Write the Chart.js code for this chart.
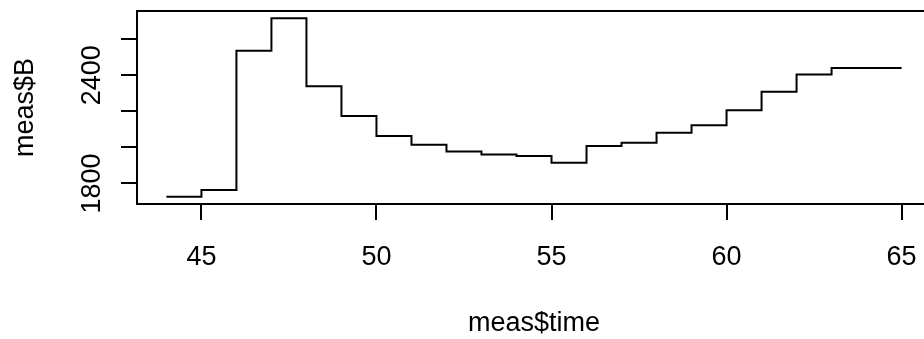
<!DOCTYPE html>
<html>
<head>
<meta charset="utf-8">
<script src="https://cdn.jsdelivr.net/npm/chart.js@4"></script>
<style>
  html, body { margin: 0; padding: 0; background: #fff; overflow: hidden; }
  #wrap { width: 924px; height: 339px; overflow: hidden; }
</style>
</head>
<body>
<div id="wrap"><canvas id="stepChart" width="960" height="339"></canvas></div>
<script>
// meas$time and meas$B
const times = [44, 45, 46, 47, 48, 49, 50, 51, 52, 53, 54, 55, 56, 57, 58, 59, 60, 61, 62, 63, 64, 65];
const valuesB = [1726, 1763, 2537, 2717, 2339, 2174, 2063, 2015, 1978, 1961, 1952, 1915, 2008, 2026, 2082, 2123, 2206, 2309, 2404, 2441, 2441, 2441];

const xTicks = [45, 50, 55, 60, 65];
const yTicks = [1800, 2000, 2200, 2400, 2600];
const yTickLabels = ['1800', '', '', '2400', ''];

const xTitle = 'meas$time';
const yTitle = 'meas$B';

const FONT = '27px "Liberation Sans", Arial, Helvetica, sans-serif';

// box + R style labels
const rLabels = {
    id: 'rLabels',
    afterDraw(chart) {
        const ctx = chart.ctx;
        const a = chart.chartArea;
        const xs = chart.scales.x;
        const ys = chart.scales.y;
        ctx.save();
        ctx.strokeStyle = '#000';
        ctx.lineWidth = 2;
        ctx.strokeRect(a.left, a.top, a.right - a.left, a.bottom - a.top);

        ctx.fillStyle = '#000';
        ctx.font = FONT;
        ctx.textAlign = 'center';
        ctx.textBaseline = 'alphabetic';

        xTicks.forEach(function(v) {
            ctx.fillText(String(v), xs.getPixelForValue(v), 265);
        });

        yTicks.forEach(function(v, i) {
            if (!yTickLabels[i]) return;
            ctx.save();
            ctx.translate(100, ys.getPixelForValue(v));
            ctx.rotate(-Math.PI / 2);
            ctx.fillText(yTickLabels[i], 0, 0);
            ctx.restore();
        });

        ctx.fillText(xTitle, (a.left + 931) / 2, 331);

        ctx.save();
        ctx.translate(33, (a.top + a.bottom) / 2);
        ctx.rotate(-Math.PI / 2);
        ctx.fillText(yTitle, 0, 0);
        ctx.restore();
        ctx.restore();
    }
};

const ctx = document.getElementById('stepChart').getContext('2d');

const stepChart = new Chart(ctx, {
    type: 'line',
    data: {
        datasets: [{
            data: times.map(function(t, i) { return { x: t, y: valuesB[i] }; }),
            stepped: true,
            borderColor: '#000',
            borderWidth: 2,
            pointRadius: 0,
            fill: false
        }]
    },
    options: {
        responsive: false,
        animation: false,
        devicePixelRatio: 1,
        layout: { padding: { top: 11, right: 29, left: 0, bottom: 0 } },
        plugins: {
            legend: { display: false },
            tooltip: { enabled: false }
        },
        scales: {
            x: {
                type: 'linear',
                min: 43.16,
                max: 65.84,
                afterBuildTicks: function(s) { s.ticks = xTicks.map(function(v) { return { value: v }; }); },
                afterFit: function(s) { s.height = 135; },
                ticks: { display: false },
                border: { display: false },
                grid: { drawOnChartArea: false, drawTicks: true, tickLength: 16, color: '#000', lineWidth: 2 }
            },
            y: {
                type: 'linear',
                min: 1686,
                max: 2757,
                afterBuildTicks: function(s) { s.ticks = yTicks.map(function(v) { return { value: v }; }); },
                afterFit: function(s) { s.width = 137; },
                ticks: { display: false },
                border: { display: false },
                grid: { drawOnChartArea: false, drawTicks: true, tickLength: 16, color: '#000', lineWidth: 2 }
            }
        }
    },
    plugins: [rLabels]
});
</script>
</body>
</html>
